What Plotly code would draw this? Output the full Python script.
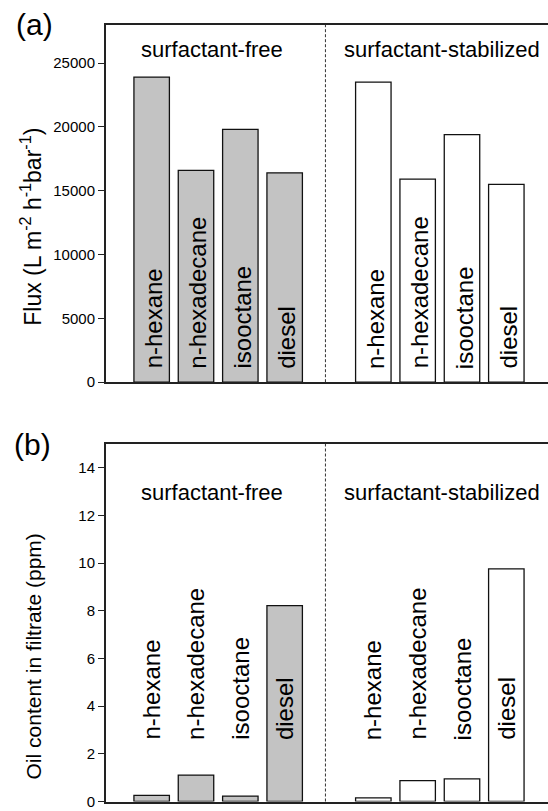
import plotly.graph_objects as go

# ---------------- data ----------------
fuels = ["n-hexane", "n-hexadecane", "isooctane", "diesel"]
groups = ["surfactant-free", "surfactant-stabilized"]
x_free = [0, 1, 2, 3]
x_stab = [5, 6, 7, 8]
divider_x = 3.92

flux_free = [23900, 16600, 19800, 16400]
flux_stab = [23500, 15900, 19400, 15500]
oil_free = [0.26, 1.11, 0.23, 8.22]
oil_stab = [0.15, 0.88, 0.95, 9.76]

flux_ticks = [0, 5000, 10000, 15000, 20000, 25000]
oil_ticks = [0, 2, 4, 6, 8, 10, 12, 14]
flux_range = [0, 28000]
oil_range = [0, 15]
x_range = [-1.03, 8.94]

flux_label_base = 900
oil_label_base = 2.5

# ---------------- style ----------------
FONT = "Arial, 'Liberation Sans', sans-serif"
W, H = 548, 811
free_color = "#c3c3c3"
edge = "#111111"
axis_col = "#222222"

def py(px):
    return 1 - px / H

fig = go.Figure()

panels = [
    dict(x="x", y="y", free=flux_free, stab=flux_stab),
    dict(x="x2", y="y2", free=oil_free, stab=oil_stab),
]
for p in panels:
    fig.add_trace(go.Bar(x=x_free, y=p["free"], xaxis=p["x"], yaxis=p["y"], width=0.8,
                         marker=dict(color=free_color, line=dict(color=edge, width=1.3)),
                         showlegend=False, hoverinfo="skip"))
    fig.add_trace(go.Bar(x=x_stab, y=p["stab"], xaxis=p["x"], yaxis=p["y"], width=0.8,
                         marker=dict(color="white", line=dict(color=edge, width=1.3)),
                         showlegend=False, hoverinfo="skip"))

xcommon = dict(range=x_range, showline=True, mirror=True, linecolor=axis_col, linewidth=2,
               showticklabels=False, ticks="", showgrid=False, zeroline=False)
ycommon = dict(showline=True, mirror=False, linecolor=axis_col, linewidth=2,
               ticks="outside", ticklen=6, tickwidth=1.3, tickcolor=axis_col,
               tickformat="d",
               tickfont=dict(family=FONT, size=15, color="black"),
               showgrid=False, zeroline=False)

fig.update_layout(
    width=W, height=H,
    margin=dict(l=106, r=0, t=0, b=0),
    paper_bgcolor="white", plot_bgcolor="white",
    barmode="overlay",
    font=dict(family=FONT, color="black"),
    xaxis=dict(domain=[0, 1], anchor="y", **xcommon),
    yaxis=dict(domain=[py(386), py(25)], anchor="x", range=flux_range,
               tickvals=flux_ticks, **ycommon),
    xaxis2=dict(domain=[0, 1], anchor="y2", **xcommon),
    yaxis2=dict(domain=[py(809.5), py(448.3)], anchor="x2", range=oil_range,
                tickvals=oil_ticks, **ycommon),
)

# divider lines
for xr, yr in [("x", "y domain"), ("x2", "y2 domain")]:
    fig.add_shape(type="line", xref=xr, yref=yr, x0=divider_x, x1=divider_x, y0=0, y1=1,
                  line=dict(color="#333333", width=1, dash="3px,2px"))

# bar labels
for xr, yr, base, shift in [("x", "y", flux_label_base, 2), ("x2", "y2", oil_label_base, 0)]:
    for xs in (x_free, x_stab):
        for xv, name in zip(xs, fuels):
            fig.add_annotation(x=xv, y=base, xref=xr, yref=yr, text=name, showarrow=False,
                               textangle=-90, xanchor="center", yanchor="bottom", xshift=shift,
                               font=dict(family=FONT, size=24, color="black"))

# group titles
group_centers = [sum(x_free) / 4, sum(x_stab) / 4]
for yr, ypx in [("paper", 50), ("paper", 497)]:
    for gname, gc, sh in zip(groups, group_centers, [-6, 2]):
        fig.add_annotation(x=gc, y=py(ypx), xref="x", yref=yr, text=gname, showarrow=False,
                           xanchor="center", yanchor="middle", xshift=sh,
                           font=dict(family=FONT, size=22, color="black"))

# panel letters
for txt, xpx, ypx in [("(a)", 34, 25), ("(b)", 32, 449)]:
    fig.add_annotation(x=(xpx - 106) / (W - 106), y=py(ypx), xref="paper", yref="paper",
                       text=txt, showarrow=False, xanchor="center", yanchor="middle",
                       font=dict(family=FONT, size=30, color="black"))

# y-axis titles
fig.add_annotation(x=(31 - 106) / (W - 106), y=py(229), xref="paper", yref="paper",
                   text="Flux (L m<sup>-2</sup> h<sup>-1</sup>bar<sup>-1</sup>)", showarrow=False,
                   textangle=-90, xanchor="center", yanchor="middle",
                   font=dict(family=FONT, size=23, color="black"))
fig.add_annotation(x=(33 - 106) / (W - 106), y=py(663), xref="paper", yref="paper",
                   text="Oil content in filtrate (ppm)", showarrow=False,
                   textangle=-90, xanchor="center", yanchor="middle",
                   font=dict(family=FONT, size=21, color="black"))

fig.write_html("out.html")
